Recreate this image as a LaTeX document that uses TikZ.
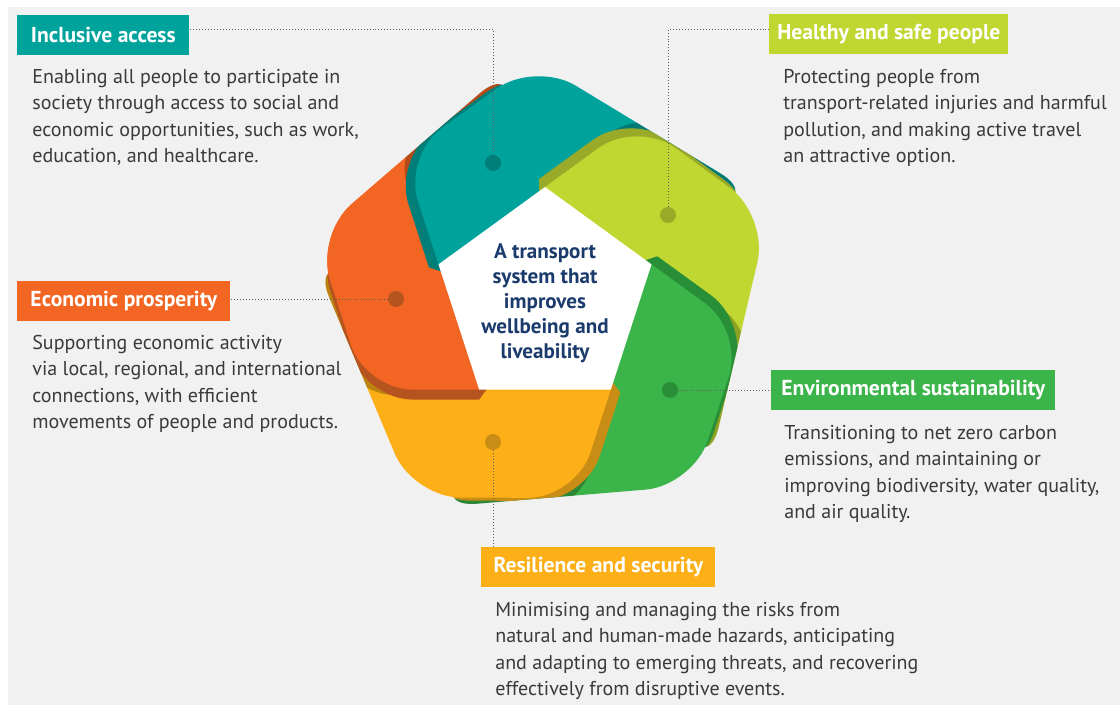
\documentclass[tikz,border=0pt]{standalone}
\usepackage{fontspec}
\setmainfont{PT Sans}
\usetikzlibrary{positioning,calc}

\definecolor{bgrey}{HTML}{F1F1F1}
\definecolor{tealA}{HTML}{00A39C}
\definecolor{limeA}{HTML}{BFD730}
\definecolor{greenA}{HTML}{3BB54A}
\definecolor{amberA}{HTML}{FCAF17}
\definecolor{orangeA}{HTML}{F26522}
\definecolor{tealB}{HTML}{007F79}
\definecolor{limeB}{HTML}{98AA27}
\definecolor{greenB}{HTML}{288E38}
\definecolor{amberB}{HTML}{C98D15}
\definecolor{orangeB}{HTML}{B5541F}
\definecolor{navy}{HTML}{1B3B6D}
\definecolor{bodytext}{HTML}{3A3A3A}

\newcommand{\rc}{0.95cm}
\newcommand{\petalpath}{(-106.5,34.6) -- (-141.7,143) -- (-10,238) -- (216,101) -- (53.3,73.3) -- (0,0) -- (-106.5,34.6)}
\newcommand{\petal}[3]{%
  \begin{scope}[rotate=#1+72]
    \clip[rounded corners=\rc] \petalpath;
    \begin{scope}[rotate=-72]
      \fill[black, opacity=.25, shift={(-10.6,14.6)}, rounded corners=\rc] \petalpath;
      \fill[#3, shift={(-9.5,-3.1)}, rounded corners=\rc] \petalpath;
    \end{scope}
  \end{scope}
  \fill[#2, rotate=#1, rounded corners=\rc] \petalpath;
}

\begin{document}
\begin{tikzpicture}[x=0.02cm, y=0.02cm,
  lab/.style={anchor=north west, minimum height=0.8cm, inner sep=0pt, text=white,
    font=\fontsize{12.3pt}{14pt}\selectfont\bfseries},
  body/.style={align=left, inner sep=0pt, text=bodytext,
    font=\fontsize{11.4pt}{15.1pt}\selectfont},
  dot/.style={circle, inner sep=0pt, minimum size=0.32cm},
  leader/.style={gray!75!black, line width=0.5pt, dash pattern=on 0.5pt off 1.2pt}]

\useasboundingbox (0,0) rectangle (1120,-705);
\fill[white] (0,0) rectangle (1120,-705);
\fill[bgrey] (8,-7) rectangle (1120,-705);

\begin{scope}[shift={(545,-299)}]
  \fill[orangeA, rotate=72, rounded corners=\rc] \petalpath;
  \petal{0}{tealA}{tealB}
  \petal{-72}{limeA}{limeB}
  \petal{-144}{greenA}{greenB}
  \petal{-216}{amberA}{amberB}
  \begin{scope}
    \clip (-400,-400) -- (400,-400) -- (400,0) -- (-140,0) -- (-165,75) -- (-400,75) -- cycle;
    \petal{72}{orangeA}{orangeB}
  \end{scope}
  \fill[white] (90:112) -- (18:112) -- (-54:112) -- (-126:112) -- (162:112) -- cycle;
\end{scope}

\node[align=center, text=navy, font=\fontsize{12pt}{14.2pt}\selectfont\bfseries] (core) at (545,-303)
  {A transport\\ system that\\ improves\\ wellbeing and\\ liveability};

\node[dot, fill=tealB] (dotA) at (493,-163) {};
\node[dot, fill=limeB] (dotB) at (668,-215) {};
\node[dot, fill=greenB] (dotD) at (670,-390) {};
\node[dot, fill=amberB] (dotC) at (493,-442) {};
\node[dot, fill=orangeB] (dotE) at (396,-299) {};

\node[lab, fill=tealA, minimum width=3.44cm] (labA) at (17,-15) {Inclusive access};
\node[lab, fill=limeA, minimum width=4.78cm] (labB) at (769,-14) {Healthy and safe people};
\node[lab, fill=orangeA, minimum width=4.26cm] (labE) at (17,-281) {Economic prosperity};
\node[lab, fill=greenA, minimum width=5.68cm] (labD) at (771,-370) {Environmental sustainability};
\node[lab, fill=amberA, minimum width=4.68cm] (labC) at (481,-547) {Resilience and security};

\node[body, below right=0.26cm and 0.3cm of labA.south west] (txtA)
  {Enabling all people to participate in\\ society through access to social and\\ economic opportunities, such as work,\\ education, and healthcare.};
\node[body, below right=0.28cm and 0.28cm of labB.south west] (txtB)
  {Protecting people from\\ transport-related injuries and harmful\\ pollution, and making active travel\\ an attractive option.};
\node[body, below right=0.26cm and 0.3cm of labE.south west] (txtE)
  {Supporting economic activity\\ via local, regional, and international\\ connections, with efficient\\ movements of people and products.};
\node[body, below right=0.28cm and 0.26cm of labD.south west] (txtD)
  {Transitioning to net zero carbon\\ emissions, and maintaining or\\ improving biodiversity, water quality,\\ and air quality.};
\node[body, below right=0.28cm and 0.28cm of labC.south west] (txtC)
  {Minimising and managing the risks from\\ natural and human-made hazards, anticipating\\ and adapting to emerging threats, and recovering\\ effectively from disruptive events.};

\draw[leader] (dotA) |- ($(labA.east)+(0,6)$);
\draw[leader] (dotB) |- ($(labB.west)+(0,5)$);
\draw[leader] (dotE) -- (dotE -| labE.east);
\draw[leader] (dotD) -- (dotD -| labD.west);
\draw[leader] (dotC) -- (dotC |- labC.north);
\end{tikzpicture}
\end{document}
